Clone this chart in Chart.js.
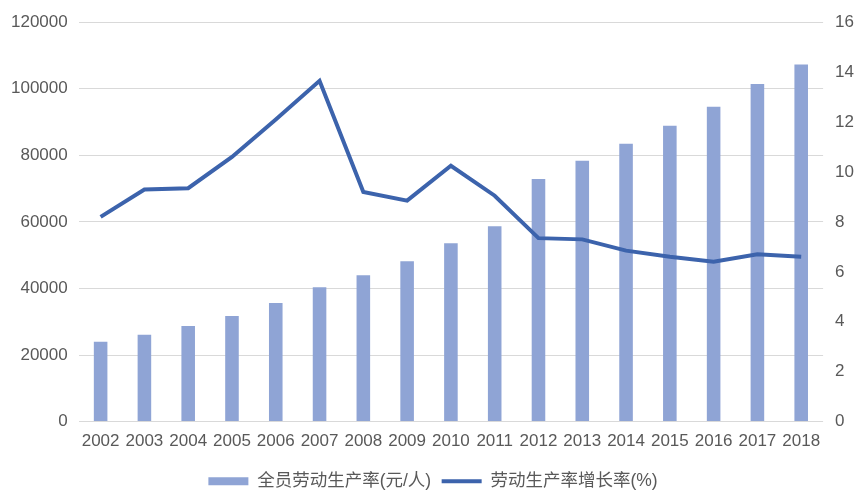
<!DOCTYPE html>
<html>
<head>
<meta charset="utf-8">
<script src="https://cdn.jsdelivr.net/npm/chart.js@4"></script>
<style>
  html, body { margin: 0; padding: 0; background: #fff; }
  #wrap { width: 868px; height: 500px; }
</style>
</head>
<body>
<div id="wrap"><canvas id="grafico"></canvas></div>
<script>
const years = ["2002", "2003", "2004", "2005", "2006", "2007", "2008", "2009", "2010",
  "2011", "2012", "2013", "2014", "2015", "2016", "2017", "2018"];
// 全员劳动生产率 (元/人)
const productivity = [24000, 26100, 28700, 31700, 35600, 40400, 44000, 48200, 53600,
  58700, 72900, 78400, 83500, 88900, 94600, 101400, 107300];
// 劳动生产率增长率 (%)
const growthRate = [8.2, 9.3, 9.35, 10.6, 12.1, 13.65, 9.2, 8.85, 10.25,
  9.05, 7.35, 7.3, 6.85, 6.6, 6.4, 6.7, 6.6];

const fontFamily = "'Liberation Sans', 'Noto Sans CJK SC', sans-serif";
const textColor = "#595959";
const tickFont = { size: 17, family: fontFamily };

const ctx = document.querySelector("#grafico").getContext("2d");

new Chart(ctx, {
  data: {
    labels: years,
    datasets: [
      {
        type: "line",
        label: "劳动生产率增长率(%)",
        data: growthRate,
        yAxisID: "y1",
        borderColor: "#3C63AC",
        backgroundColor: "#3C63AC",
        borderWidth: 4,
        pointRadius: 0,
        tension: 0,
        order: 1,
      },
      {
        type: "bar",
        label: "全员劳动生产率(元/人)",
        data: productivity,
        yAxisID: "y",
        backgroundColor: "#8FA4D5",
        barPercentage: 0.62,
        categoryPercentage: 0.5,
        order: 2,
      },
    ],
  },
  options: {
    responsive: true,
    maintainAspectRatio: false,
    animation: false,
    layout: { padding: { top: 10, right: 2, left: 0, bottom: 0 } },
    plugins: {
      tooltip: { enabled: false },
      legend: {
        position: "bottom",
        reverse: true,
        labels: {
          usePointStyle: true,
          pointStyleWidth: 40,
          boxHeight: 8,
          padding: 10.5,
          color: textColor,
          font: { size: 17.5, family: fontFamily },
          generateLabels: (chart) => {
            const items = Chart.defaults.plugins.legend.labels.generateLabels(chart);
            items.forEach((it) => {
              const ds = chart.data.datasets[it.datasetIndex];
              if (ds.type === "line") {
                it.pointStyle = "line";
                it.lineWidth = 4;
                it.strokeStyle = ds.borderColor;
              } else {
                it.pointStyle = "rect";
                it.lineWidth = 0;
              }
            });
            return items;
          },
        },
      },
    },
    scales: {
      x: {
        grid: { display: false, drawTicks: false },
        border: { display: false },
        ticks: { color: textColor, font: tickFont, padding: 10, maxRotation: 0 },
      },
      y: {
        position: "left",
        min: 0,
        max: 120000,
        ticks: {
          stepSize: 20000,
          color: textColor,
          font: tickFont,
          padding: 11,
          callback: (v) => String(v),
        },
        grid: { color: "#D9D9D9", lineWidth: 1, drawTicks: false },
        border: { display: false },
      },
      y1: {
        position: "right",
        min: 0,
        max: 16,
        ticks: { stepSize: 2, color: textColor, font: tickFont, padding: 12 },
        grid: { display: false, drawTicks: false },
        border: { display: false },
      },
    },
  },
});
</script>
</body>
</html>
